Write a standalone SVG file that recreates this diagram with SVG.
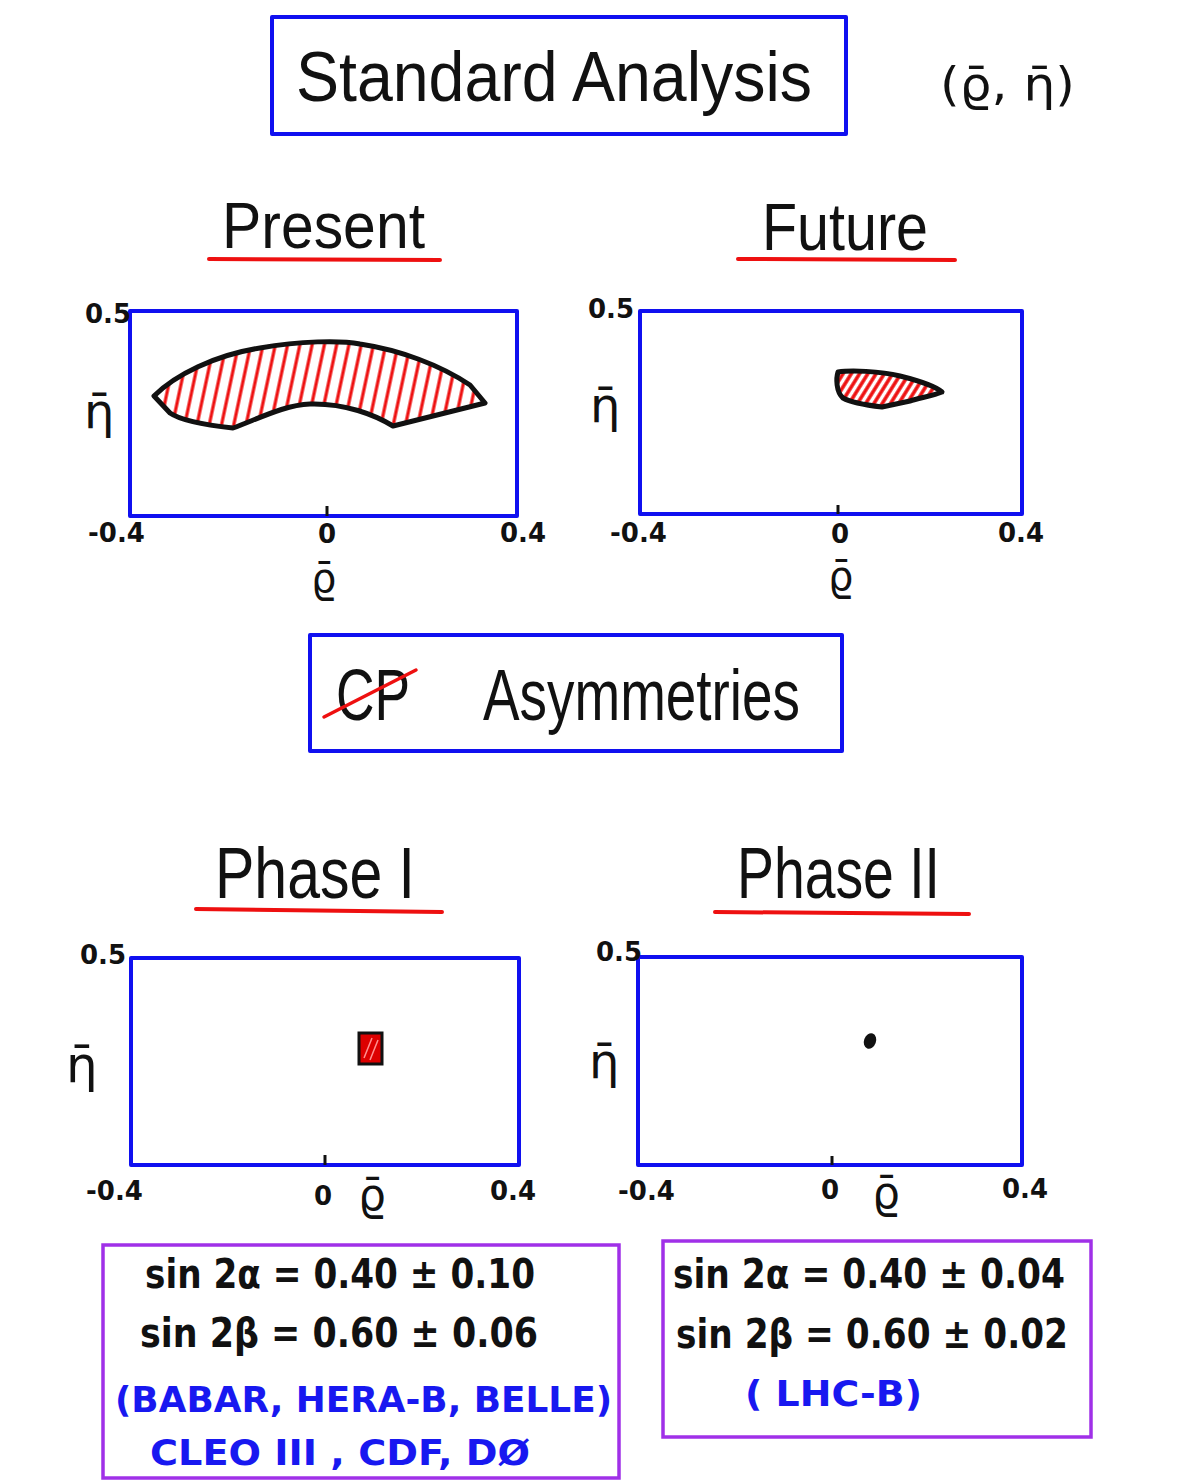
<svg xmlns="http://www.w3.org/2000/svg" width="1200" height="1483" viewBox="0 0 1200 1483">
<style>
.bx{fill:none;stroke:#1010f0;stroke-width:4;stroke-linejoin:round}
.pb{fill:none;stroke:#a030e8;stroke-width:3.5}
.ul{stroke:#ee1010;stroke-width:4;stroke-linecap:round}
.t{font-family:"Liberation Sans","DejaVu Sans",sans-serif;fill:#111}
.ax{font-family:"DejaVu Sans","Liberation Sans",sans-serif;font-weight:bold;font-size:26px;fill:#111}
.sym{font-family:"DejaVu Sans",sans-serif;fill:#111}
.eq{font-family:"DejaVu Sans","Liberation Sans",sans-serif;font-weight:bold;font-size:40px;fill:#111}
.bl{font-family:"DejaVu Sans","Liberation Sans",sans-serif;font-weight:bold;font-size:36px;fill:#1818f0}
.tick{stroke:#111;stroke-width:3}
.sh{stroke:#111;stroke-width:5;stroke-linejoin:round}
</style>
<defs>
<pattern id="hatch" patternUnits="userSpaceOnUse" width="12" height="40" patternTransform="rotate(12)">
<line x1="5" y1="0" x2="5" y2="40" stroke="#ee1010" stroke-width="3.2"/>
</pattern>
<pattern id="hatch2" patternUnits="userSpaceOnUse" width="7" height="40" patternTransform="rotate(32)">
<line x1="3" y1="0" x2="3" y2="40" stroke="#ee1010" stroke-width="3.5"/>
</pattern>
</defs>
<rect width="1200" height="1483" fill="#fff"/>

<g id="title">
<rect class="bx" x="272" y="17" width="574" height="117"/>
<text class="t" x="296" y="101" font-size="70" textLength="516" lengthAdjust="spacingAndGlyphs">Standard  Analysis</text>
<text class="sym" x="940" y="100" font-size="46" textLength="135" lengthAdjust="spacingAndGlyphs">(ϱ̄, η̄)</text>
</g>

<g id="present-label">
<text class="t" x="222" y="248" font-size="64" textLength="203" lengthAdjust="spacingAndGlyphs">Present</text>
<line class="ul" x1="209" y1="259" x2="440" y2="260"/>
</g>
<g id="future-label">
<text class="t" x="762" y="250" font-size="66" textLength="166" lengthAdjust="spacingAndGlyphs">Future</text>
<line class="ul" x1="738" y1="259" x2="955" y2="260"/>
</g>

<g id="present-plot">
<rect class="bx" x="130" y="311" width="387" height="205"/>
<line class="tick" x1="327" y1="506" x2="327" y2="516"/>
<path fill="url(#hatch)" class="sh" d="M154,396 C175,375 215,355 260,348 C300,341 340,340 360,344 C400,350 440,365 470,385 L485,403 L393,426 C375,415 345,403 310,404 C285,405 260,418 233,428 C205,425 180,420 170,413 Z"/>
<text class="ax" x="85" y="323">0.5</text>
<text class="sym" x="84" y="428" font-size="48">η̄</text>
<text class="ax" x="88" y="542">-0.4</text>
<text class="ax" x="318" y="543">0</text>
<text class="ax" x="500" y="542">0.4</text>
<text class="sym" x="311" y="592" font-size="40">ϱ̄</text>
</g>

<g id="future-plot">
<rect class="bx" x="640" y="311" width="382" height="203"/>
<line class="tick" x1="838" y1="505" x2="838" y2="514"/>
<path fill="url(#hatch2)" class="sh" d="M838,372 C850,370 880,371 900,376 C920,381 935,386 942,392 C935,395 920,398 910,401 L882,407 C865,405 850,402 843,398 C836,392 836,378 838,372 Z"/>
<text class="ax" x="588" y="318">0.5</text>
<text class="sym" x="590" y="422" font-size="48">η̄</text>
<text class="ax" x="610" y="542">-0.4</text>
<text class="ax" x="831" y="543">0</text>
<text class="ax" x="998" y="542">0.4</text>
<text class="sym" x="828" y="590" font-size="40">ϱ̄</text>
</g>

<g id="cp-asymmetries">
<rect class="bx" x="310" y="635" width="532" height="116"/>
<text class="t" x="336" y="720" font-size="72" textLength="74" lengthAdjust="spacingAndGlyphs">CP</text>
<line x1="324" y1="717" x2="416" y2="670" stroke="#ee1010" stroke-width="3.5" stroke-linecap="round"/>
<text class="t" x="483" y="720" font-size="72" textLength="317" lengthAdjust="spacingAndGlyphs">Asymmetries</text>
</g>

<g id="phase1-label">
<text class="t" x="215" y="898" font-size="72" textLength="200" lengthAdjust="spacingAndGlyphs">Phase  I</text>
<line class="ul" x1="196" y1="909" x2="442" y2="912"/>
</g>
<g id="phase2-label">
<text class="t" x="737" y="898" font-size="72" textLength="203" lengthAdjust="spacingAndGlyphs">Phase  II</text>
<line class="ul" x1="715" y1="912" x2="969" y2="914"/>
</g>

<g id="phase1-plot">
<rect class="bx" x="131" y="958" width="388" height="207"/>
<line class="tick" x1="325" y1="1155" x2="325" y2="1165"/>
<rect x="359" y="1033" width="23" height="31" fill="#dd0000" stroke="#111" stroke-width="3"/>
<line x1="364" y1="1058" x2="372" y2="1038" stroke="#ff9090" stroke-width="1.5"/>
<line x1="370" y1="1060" x2="378" y2="1040" stroke="#ff9090" stroke-width="1.5"/>
<text class="ax" x="80" y="964">0.5</text>
<text class="sym" x="66" y="1082" font-size="50">η̄</text>
<text class="ax" x="86" y="1200">-0.4</text>
<text class="ax" x="314" y="1205">0</text>
<text class="ax" x="490" y="1200">0.4</text>
<text class="sym" x="358" y="1210" font-size="44">ϱ̄</text>
</g>

<g id="phase2-plot">
<rect class="bx" x="638" y="957" width="384" height="208"/>
<line class="tick" x1="832" y1="1156" x2="832" y2="1165"/>
<ellipse cx="870" cy="1041" rx="6" ry="8" fill="#111" transform="rotate(20 870 1041)"/>
<text class="ax" x="596" y="961">0.5</text>
<text class="sym" x="589" y="1078" font-size="48">η̄</text>
<text class="ax" x="618" y="1200">-0.4</text>
<text class="ax" x="821" y="1199">0</text>
<text class="ax" x="1002" y="1198">0.4</text>
<text class="sym" x="872" y="1208" font-size="44">ϱ̄</text>
</g>

<g id="phase1-results">
<rect class="pb" x="103" y="1245" width="516" height="233"/>
<text class="eq" x="145" y="1288" textLength="390" lengthAdjust="spacingAndGlyphs">sin 2α = 0.40 ± 0.10</text>
<text class="eq" x="140" y="1347" textLength="398" lengthAdjust="spacingAndGlyphs">sin 2β = 0.60 ± 0.06</text>
<text class="bl" x="115" y="1412" textLength="497" lengthAdjust="spacingAndGlyphs">(BABAR, HERA-B, BELLE)</text>
<text class="bl" x="150" y="1465" textLength="380" lengthAdjust="spacingAndGlyphs">CLEO  III  , CDF, DØ</text>
</g>

<g id="phase2-results">
<rect class="pb" x="663" y="1241" width="428" height="196"/>
<text class="eq" x="673" y="1288" textLength="392" lengthAdjust="spacingAndGlyphs">sin 2α  = 0.40 ± 0.04</text>
<text class="eq" x="676" y="1348" textLength="392" lengthAdjust="spacingAndGlyphs">sin 2β  = 0.60 ± 0.02</text>
<text class="bl" x="745" y="1406" textLength="177" lengthAdjust="spacingAndGlyphs">( LHC-B)</text>
</g>
</svg>
